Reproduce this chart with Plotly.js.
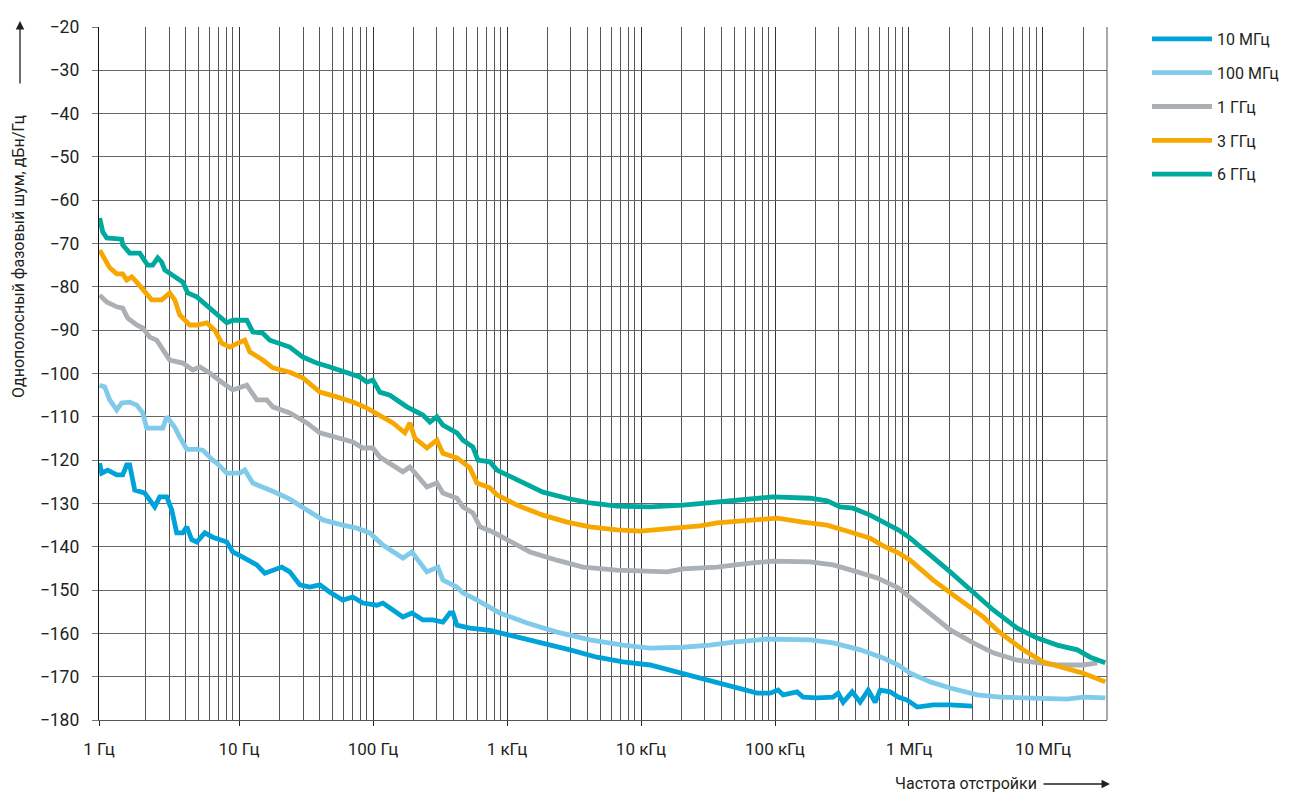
<!DOCTYPE html>
<html>
<head>
<meta charset="utf-8">
<script src="https://cdn.plot.ly/plotly-3.0.1.min.js"></script>
<style>
html,body{margin:0;padding:0;background:#fff;}
#chart{width:1303px;height:793px;}
</style>
</head>
<body>
<div id="chart"></div>
<script>
// ---- Data (offset frequency in Hz, SSB phase noise in dBc/Hz) ----
const seriesNames = ["10 МГц", "100 МГц", "1 ГГц", "3 ГГц", "6 ГГц"];

const f10M = [0.911,0.943,1.046,1.221,1.353,1.450,1.526,1.664,1.976,2.154,2.346,2.557,2.884,3.144,3.426,3.798,4.069,4.435,4.832,5.544,6.362,8.094,8.974,10.66,13.56,15.56,17.55,20.84,23.91,28.40,33.73,40.07,47.59,59.50,70.65,83.90,106.8,118.4,140.6,167.0,194.9,235.4,279.7,332.1,374.7,394.5,422.7,528.4,745.2,1186,1854,2950,4692,7337,11680,16460,23230,36960,52120,73490,91920,105500,115000,146200,162100,206300,271700,296000,322500,376600,432100,495900,559300,609500,723700,830700,969400,1.151e6,1.516e6,2.031e6,2.965e6];
const n10M = [-120.7,-123,-122.3,-123.4,-123.4,-121.1,-121.1,-126.9,-127.6,-129.2,-130.8,-128.5,-128.5,-131.5,-136.8,-136.8,-135.4,-138.4,-138.9,-136.8,-137.8,-138.9,-141.2,-142.4,-144.2,-146.1,-145.4,-144.7,-145.8,-148.8,-149.3,-148.8,-150.5,-152.3,-151.6,-153,-153.5,-153,-154.6,-156.2,-155.3,-156.9,-156.9,-157.4,-155.3,-155.3,-158.1,-158.8,-159.3,-160.8,-162.2,-163.8,-165.5,-166.6,-167.3,-168.5,-169.6,-171.2,-172.4,-173.8,-173.8,-173.1,-174.2,-173.5,-174.7,-174.9,-174.7,-173.8,-175.9,-173.5,-175.9,-173.1,-175.9,-173.1,-173.5,-174.7,-175.4,-177,-176.5,-176.5,-176.8];

const f100M = [0.911,0.993,1.082,1.221,1.330,1.526,1.722,1.909,2.045,2.693,2.884,3.310,3.607,4.069,4.832,5.357,6.362,6.815,8.094,10.12,11.03,12.66,17.85,23.91,32.04,42.19,59.50,75.68,94.65,118.4,167.0,194.9,252.2,304.8,332.1,422.7,468.6,556.4,745.2,885.1,1408,2359,4160,7337,11680,20590,32760,48650,87300,182900,271700,432100,641700,830700,1.021e6,1.440e6,2.031e6,3.231e6,4.799e6,8.463e6,1.519e7,2.000e7,2.920e7];
const n100M = [-102.7,-103.1,-106.1,-108.4,-106.8,-106.6,-107.3,-109.1,-112.6,-112.6,-110,-112.4,-114.7,-117.5,-117.5,-117.7,-120,-120.7,-123,-123,-122.3,-125.3,-127.2,-129,-131.5,-133.8,-135,-135.7,-136.8,-139.6,-142.6,-141.2,-145.8,-144.7,-147.7,-149.3,-150.7,-151.8,-154,-155.3,-157.6,-159.7,-161.5,-162.7,-163.4,-163.2,-162.7,-162,-161.3,-161.5,-162.2,-163.8,-165.7,-167.3,-169.2,-171.2,-172.6,-174.2,-174.7,-174.9,-175.2,-174.7,-174.9];

const f1G = [0.911,1.028,1.221,1.353,1.475,1.722,1.909,2.154,2.428,3.037,3.798,4.511,5.088,6.042,7.556,8.974,11.42,13.56,16.10,17.85,23.91,32.04,40.07,53.66,70.65,83.90,99.65,112.4,133.5,167.0,188.3,252.2,299.6,332.1,422.7,468.6,556.4,627.7,784.7,998.3,1483,2359,3689,6618,9829,15640,20590,36960,65170,96780,182900,271700,410400,578800,830700,1.021e6,1.516e6,2.031e6,3.017e6,4.255e6,6.429e6,9.066e6,1.279e7,2.000e7,2.544e7];
const n1G = [-81.9,-83.5,-84.6,-84.9,-87.2,-88.8,-89.5,-91.6,-92.3,-96.9,-97.6,-99.2,-98.5,-99.9,-102.2,-103.8,-102.7,-106.1,-106.1,-107.7,-109.1,-111.4,-113.7,-114.7,-115.8,-117.2,-117.2,-119.3,-120.7,-122.7,-121.6,-126.2,-125.3,-127.6,-128.8,-130.8,-132.2,-135.4,-136.6,-138.4,-141.2,-143.1,-144.7,-145.4,-145.6,-145.8,-145.1,-144.7,-143.8,-143.3,-143.5,-144.2,-145.8,-147.2,-149.5,-151.8,-156.2,-159.2,-162.2,-164.5,-166.2,-166.8,-167.3,-167.3,-166.8];

const f3G = [0.911,0.960,1.082,1.221,1.353,1.450,1.579,1.722,1.909,2.228,2.647,3.037,3.310,3.607,4.283,4.832,5.739,6.585,7.427,8.522,9.779,11.03,12.02,15.03,17.85,23.91,29.91,40.07,53.66,70.65,89.89,112.4,140.6,172.8,188.3,205.2,252.2,299.6,332.1,422.7,528.4,596.2,745.2,840.6,1186,1854,2803,4160,6618,9829,16460,27590,36960,65170,103700,162100,245000,363900,513200,641700,830700,1.021e6,1.516e6,2.291e6,3.583e6,4.799e6,7.126e6,1.005e7,1.418e7,2.000e7,2.920e7];
const n3G = [-71.5,-72.6,-75.6,-77,-77,-78.4,-77.7,-78.9,-80.7,-83,-83,-81.4,-83,-86.5,-88.8,-88.8,-88.3,-90,-93,-93.9,-93,-92.3,-95,-96.9,-98.7,-99.7,-101,-104.3,-105.4,-106.6,-108,-109.6,-111.4,-113.7,-111.4,-114.9,-117.2,-115.4,-118.4,-119.5,-121.8,-125.3,-126.4,-128,-130.4,-132.7,-134.3,-135.4,-136.1,-136.4,-135.9,-135.2,-134.5,-133.8,-133.4,-134.3,-135,-136.6,-138,-139.8,-141.4,-143.1,-147.7,-151.8,-156.2,-159.9,-163.8,-166.6,-168,-169.2,-171.2];

const f6G = [0.911,0.960,1.028,1.330,1.353,1.526,1.813,2.080,2.267,2.471,2.647,2.787,3.798,4.140,4.832,5.838,7.176,8.094,8.974,11.42,12.66,15.03,16.96,23.91,29.91,38.05,47.59,67.09,79.68,89.89,99.65,112.4,133.5,178.9,235.4,265.6,299.6,332.1,422.7,468.6,556.4,606.5,745.2,840.6,998.3,1249,1854,2803,4160,6618,11680,20590,36960,65170,96780,182900,245000,306400,383200,513200,641700,830700,1.021e6,1.516e6,2.031e6,3.017e6,4.255e6,6.429e6,9.066e6,1.279e7,1.804e7,2.255e7,2.920e7];
const n6G = [-64.1,-67.3,-68.7,-69,-70.3,-72.2,-72.2,-75,-75,-73.3,-74.3,-76.1,-78.9,-81.4,-82.3,-84.6,-87,-88.3,-87.7,-87.7,-90.4,-90.7,-92.3,-93.9,-96.2,-97.6,-98.5,-99.9,-100.8,-102,-101.5,-104.3,-105,-107.7,-109.6,-111.2,-110,-111.9,-113.7,-115.4,-117,-120,-120.4,-122.3,-123.4,-125,-127.4,-128.8,-129.9,-130.6,-130.8,-130.4,-129.7,-128.8,-128.5,-128.8,-129.4,-130.8,-131.1,-132.7,-134.3,-136.1,-138,-142.4,-145.8,-150.5,-154.6,-158.8,-161.1,-162.7,-163.8,-165.5,-166.8];

const xTickVals = [0.9005, 10, 100, 1e3, 1e4, 1e5, 1e6, 1e7];
const xTickText = ["1 Гц", "10 Гц", "100 Гц", "1 кГц", "10 кГц", "100 кГц", "1 МГц", "10 МГц"];
const yTickVals = [-180,-170,-160,-150,-140,-130,-120,-110,-100,-90,-80,-70,-60,-50,-40,-30,-20];

const colors = ["#00a3d9", "#80cbea", "#abb0b5", "#f7a800", "#00a99d"];
const xs = [f10M, f100M, f1G, f3G, f6G];
const ys = [n10M, n100M, n1G, n3G, n6G];

const FONT = "Roboto, 'Liberation Sans', sans-serif";
const TXT = "#231f20";

const traces = seriesNames.map((name, i) => ({
  type: "scatter", mode: "lines", name: name,
  x: xs[i], y: ys[i],
  legendgroup: "g" + i,
  line: {color: colors[i], width: 4.8, shape: "linear"},
  hoverinfo: "x+y+name"
}));

// minor grid positions (2..9 per decade)
const minorVals = [];
for (let d = 0; d <= 7; d++) {
  for (let k = 2; k <= 9; k++) {
    const v = k * Math.pow(10, d);
    if (v < 2.99e7) minorVals.push(v);
  }
}

const L = 99, R = 1107, T = 27, B = 720;
const px2x = X => (X - L) / (R - L);
const px2y = Y => (B - Y) / (B - T);

const layout = {
  width: 1303, height: 793,
  margin: {l: 99, r: 196, t: 27, b: 73, pad: 0},
  paper_bgcolor: "#ffffff", plot_bgcolor: "#ffffff",
  font: {family: FONT, size: 17, color: TXT},
  showlegend: true,
  legend: {
    x: px2x(1147), xanchor: "left", y: px2y(22), yanchor: "top",
    font: {family: FONT, size: 16, color: TXT},
    tracegroupgap: 10, bgcolor: "rgba(0,0,0,0)", borderwidth: 0,
    itemwidth: 60
  },
  xaxis: {
    type: "log",
    range: [Math.log10(0.9005), 7.478],
    tickmode: "array", tickvals: xTickVals, ticktext: xTickText,
    ticks: "outside", ticklen: 5, tickcolor: "#222", tickwidth: 1,
    ticklabelstandoff: 9,
    tickfont: {family: FONT, size: 17, color: TXT},
    showgrid: true, gridcolor: "#333", gridwidth: 1,
    minor: {tickmode: "array", tickvals: minorVals, showgrid: true, gridcolor: "#555", gridwidth: 1, ticks: ""},
    showline: true, linecolor: "#555", linewidth: 1, mirror: false,
    zeroline: false, fixedrange: true
  },
  yaxis: {
    range: [-180, -20],
    tickmode: "array", tickvals: yTickVals,
    ticks: "outside", ticklen: 6, tickcolor: "#777", tickwidth: 1,
    ticklabelstandoff: 9,
    tickfont: {family: FONT, size: 17.5, color: TXT},
    showgrid: true, gridcolor: "#666", gridwidth: 1,
    showline: true, linecolor: "#111", linewidth: 1.2,
    zeroline: false, fixedrange: true
  },
  shapes: [
    {type: "line", xref: "paper", yref: "paper", x0: 1, x1: 1, y0: 0, y1: 1, line: {color: "#555", width: 1}}
  ],
  annotations: [
    {xref: "paper", yref: "paper", x: px2x(18), y: px2y(256), text: "Однополосный фазовый шум, дБн/Гц",
     textangle: -90, showarrow: false, xanchor: "center", yanchor: "middle",
     font: {family: FONT, size: 16, color: TXT}},
    {xref: "paper", yref: "paper", x: px2x(20), y: px2y(21), text: "", showarrow: true,
     ax: 0, ay: 64, axref: "pixel", ayref: "pixel", arrowhead: 2, arrowsize: 1.3, arrowwidth: 1.3, arrowcolor: TXT, standoff: 0},
    {xref: "paper", yref: "paper", x: px2x(1039), y: px2y(783), text: "Частота отстройки",
     showarrow: false, xanchor: "right", yanchor: "middle",
     font: {family: FONT, size: 16, color: TXT}},
    {xref: "paper", yref: "paper", x: px2x(1110), y: px2y(784), text: "", showarrow: true,
     ax: -68, ay: 0, axref: "pixel", ayref: "pixel", arrowhead: 2, arrowsize: 1.3, arrowwidth: 1.3, arrowcolor: TXT, standoff: 0}
  ]
};

Plotly.newPlot("chart", traces, layout, {displayModeBar: false, staticPlot: true});
</script>
</body>
</html>
